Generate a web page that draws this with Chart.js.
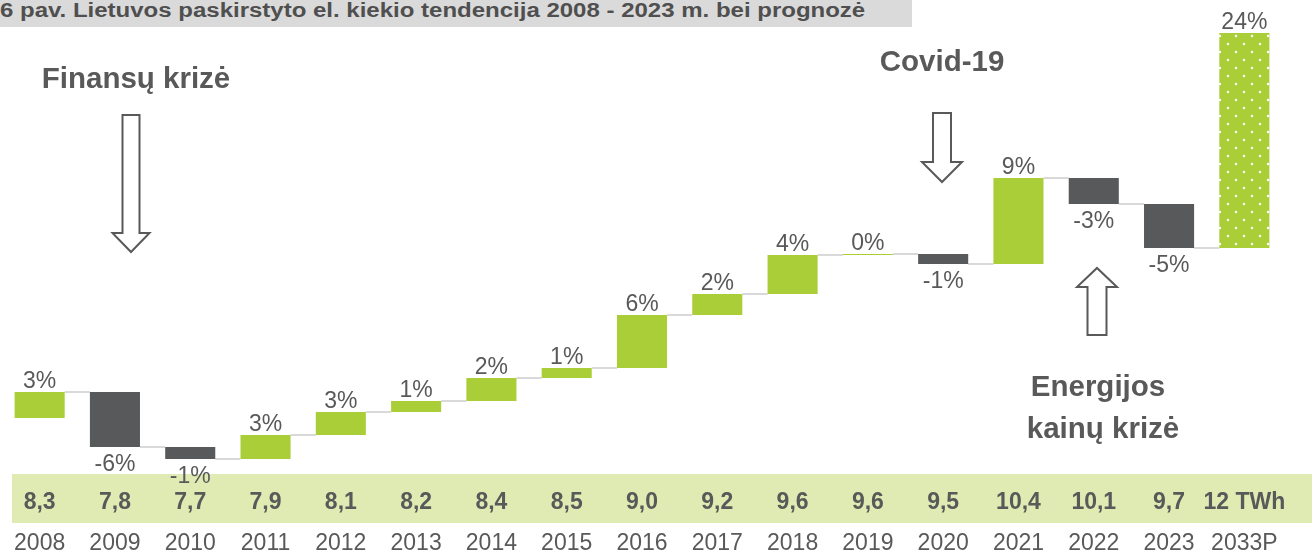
<!DOCTYPE html>
<html>
<head>
<meta charset="utf-8">
<script src="https://cdn.jsdelivr.net/npm/chart.js@4.4.1/dist/chart.umd.min.js"></script>
<style>
  html, body { margin: 0; padding: 0; background: #fff; }
  #wrap { position: relative; width: 1312px; height: 551px; }
  #title {
    position: absolute; left: 0; top: 0; width: 912px; height: 27px;
    background: #dadada; overflow: hidden; z-index: 2;
  }
  #title span {
    position: absolute; left: 0; top: -2px;
    color: #4f4f4f; font: bold 20px "Liberation Sans", Arial, sans-serif;
    line-height: 24px; white-space: nowrap;
    transform: scaleX(1.2); transform-origin: left top;
  }
  canvas { position: absolute; left: 0; top: 0; }
</style>
</head>
<body>
<div id="wrap">
  <div id="title"><span>6 pav. Lietuvos paskirstyto el. kiekio tendencija 2008 - 2023 m. bei prognozė</span></div>
  <canvas id="chart" width="1312" height="551"></canvas>
</div>
<script>
const years = ['2008','2009','2010','2011','2012','2013','2014','2015','2016','2017','2018','2019','2020','2021','2022','2023','2033P']
const twh = ['8,3','7,8','7,7','7,9','8,1','8,2','8,4','8,5','9,0','9,2','9,6','9,6','9,5','10,4','10,1','9,7','12 TWh']
const change = [3,-6,-1,3,3,1,2,1,6,2,4,0,-1,9,-3,-5,24]
// bar levels (start level before 2008, then end of each step)
const startLevel = 8.11
const levels = [8.37,7.82,7.70,7.94,8.17,8.28,8.51,8.61,9.14,9.35,9.74,9.75,9.65,10.51,10.25,9.81,11.96]

const green = '#a9ce38'
const dark = '#58595b'
const txt = '#595959'
const font = '"Liberation Sans", Arial, sans-serif'

// dotted fill for the forecast bar
const pc = document.createElement('canvas')
pc.width = 16; pc.height = 16
const px = pc.getContext('2d')
px.fillStyle = green
px.fillRect(0,0,16,16)
px.fillStyle = '#ffffff'
px.beginPath(); px.arc(4,4,1.2,0,Math.PI*2); px.fill()
px.beginPath(); px.arc(12,12,1.2,0,Math.PI*2); px.fill()
const ctxMain = document.getElementById('chart').getContext('2d')
const dots = ctxMain.createPattern(pc,'repeat')

const bars = levels.map((v,i) => [i === 0 ? startLevel : levels[i-1], v])
const colors = change.map((c,i) => i === change.length-1 ? dots : (c >= 0 ? green : dark))

const band = {
  id:'band',
  beforeDraw(chart){
    const top = chart.chartArea.bottom
    const c = chart.ctx
    c.save()
    c.fillStyle = '#dfebb3'
    c.fillRect(12, top, chart.width-12, 49)
    c.restore()
  }
}

const connectors = {
  id:'connectors',
  beforeDatasetsDraw(chart){
    const meta = chart.getDatasetMeta(0)
    const y = chart.scales.y
    const c = chart.ctx
    c.save()
    c.strokeStyle = '#d9d9d9'
    c.lineWidth = 2
    for (let i = 0; i < levels.length-1; i++) {
      const a = meta.data[i], b = meta.data[i+1]
      const yy = Math.round(y.getPixelForValue(levels[i]))
      c.beginPath()
      c.moveTo(a.x + a.width/2, yy)
      c.lineTo(b.x - b.width/2, yy)
      c.stroke()
    }
    c.restore()
  }
}

const pctLabels = {
  id:'pctLabels',
  afterDatasetsDraw(chart){
    const meta = chart.getDatasetMeta(0)
    const y = chart.scales.y
    const c = chart.ctx
    c.save()
    c.fillStyle = txt
    c.font = '23px ' + font
    c.textAlign = 'center'
    c.textBaseline = 'alphabetic'
    change.forEach((v,i) => {
      const el = meta.data[i]
      if (v >= 0) {
        c.fillText(v + '%', el.x, y.getPixelForValue(Math.max(...bars[i])) - 4)
      } else {
        c.fillText(v + '%', el.x, y.getPixelForValue(Math.min(...bars[i])) + 24)
      }
    })
    c.restore()
  }
}

function arrow(c, cx, y0, y1, shaftW, headW, headL, dir){
  // dir 1 = pointing down, -1 = pointing up
  const hs = shaftW/2, hh = headW/2
  const tip = dir > 0 ? y1 : y0
  const base = dir > 0 ? y0 : y1
  const neck = tip - dir*headL
  c.beginPath()
  c.moveTo(cx - hs, base)
  c.lineTo(cx - hs, neck)
  c.lineTo(cx - hh, neck)
  c.lineTo(cx, tip)
  c.lineTo(cx + hh, neck)
  c.lineTo(cx + hs, neck)
  c.lineTo(cx + hs, base)
  c.closePath()
  c.fillStyle = '#fff'
  c.fill()
  c.stroke()
}

const notes = {
  id:'notes',
  afterDraw(chart){
    const c = chart.ctx
    c.save()
    c.strokeStyle = txt
    c.lineWidth = 2
    c.lineJoin = 'miter'
    arrow(c, 131, 115, 252, 17, 37, 19, 1)
    arrow(c, 942, 113, 182, 18, 40, 20, 1)
    arrow(c, 1097, 268, 335, 19, 40, 19, -1)
    c.fillStyle = txt
    c.font = 'bold 29.5px ' + font
    c.textAlign = 'center'
    c.textBaseline = 'alphabetic'
    c.fillText('Finansų krizė', 136, 88)
    c.fillText('Covid-19', 942, 71)
    c.fillText('Energijos', 1098, 396)
    c.fillText('kainų krizė', 1103, 438)
    c.restore()
  }
}

new Chart(ctxMain,{
  type:'bar',
  data:{
    labels:years,
    datasets:[{
      data:bars,
      backgroundColor:colors,
      borderWidth:0,
      barPercentage:0.665,
      categoryPercentage:1
    }]
  },
  options:{
    responsive:false,
    animation:false,
    devicePixelRatio:1,
    layout:{ padding:{ top:30, left:2, right:30, bottom:-5 } },
    plugins:{ legend:{ display:false }, tooltip:{ enabled:false } },
    scales:{
      x:{
        position:'bottom',
        weight:1,
        grid:{ display:false, drawTicks:false },
        border:{ display:false },
        ticks:{ color:txt, font:{ family:font, size:23, lineHeight:1.087 }, padding:0, maxRotation:0, autoSkip:false }
      },
      x2:{
        type:'category',
        labels:twh,
        position:'bottom',
        offset:true,
        weight:0,
        grid:{ display:false, drawTicks:false },
        border:{ display:false },
        ticks:{ color:txt, font:{ family:font, size:23, weight:'bold', lineHeight:1.609 }, padding:10, maxRotation:0, autoSkip:false }
      },
      y:{
        display:false,
        min:7.55,
        max:11.99
      }
    }
  },
  plugins:[band, connectors, pctLabels, notes]
})
</script>
</body>
</html>
